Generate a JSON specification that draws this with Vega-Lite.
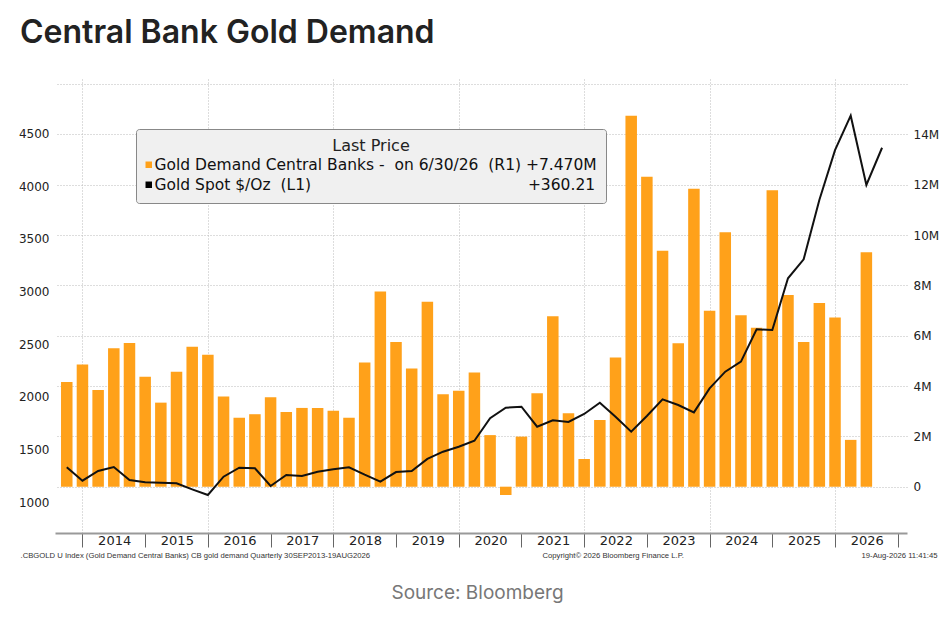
{
  "$schema": "https://vega.github.io/schema/vega-lite/v6.json",
  "width": 852,
  "height": 454,
  "autosize": {"type": "none"},
  "padding": {"left": 55, "top": 79, "right": 41, "bottom": 87},
  "background": "white",
  "title": {
    "text": "Central Bank Gold Demand",
    "anchor": "start",
    "frame": "group",
    "dx": -35,
    "offset": 4,
    "baseline": "alphabetic",
    "font": "Inter",
    "fontSize": 32,
    "fontWeight": 600,
    "color": "#222"
  },
  "data": {
    "values": [
      {"t": 2013.75, "demand": 4.16, "spot": 1332},
      {"t": 2014.0, "demand": 4.86, "spot": 1205},
      {"t": 2014.25, "demand": 3.84, "spot": 1297},
      {"t": 2014.5, "demand": 5.5, "spot": 1335},
      {"t": 2014.75, "demand": 5.71, "spot": 1212},
      {"t": 2015.0, "demand": 4.37, "spot": 1190},
      {"t": 2015.25, "demand": 3.34, "spot": 1186},
      {"t": 2015.5, "demand": 4.57, "spot": 1180},
      {"t": 2015.75, "demand": 5.56, "spot": 1123},
      {"t": 2016.0, "demand": 5.24, "spot": 1069},
      {"t": 2016.25, "demand": 3.58, "spot": 1243},
      {"t": 2016.5, "demand": 2.74, "spot": 1328},
      {"t": 2016.75, "demand": 2.88, "spot": 1322},
      {"t": 2017.0, "demand": 3.55, "spot": 1155},
      {"t": 2017.25, "demand": 2.97, "spot": 1259},
      {"t": 2017.5, "demand": 3.13, "spot": 1249},
      {"t": 2017.75, "demand": 3.13, "spot": 1290},
      {"t": 2018.0, "demand": 3.02, "spot": 1313},
      {"t": 2018.25, "demand": 2.74, "spot": 1332},
      {"t": 2018.5, "demand": 4.93, "spot": 1262},
      {"t": 2018.75, "demand": 7.76, "spot": 1196},
      {"t": 2019.0, "demand": 5.75, "spot": 1287},
      {"t": 2019.25, "demand": 4.7, "spot": 1297},
      {"t": 2019.5, "demand": 7.35, "spot": 1411},
      {"t": 2019.75, "demand": 3.67, "spot": 1480},
      {"t": 2020.0, "demand": 3.81, "spot": 1527},
      {"t": 2020.25, "demand": 4.54, "spot": 1584},
      {"t": 2020.5, "demand": 2.05, "spot": 1797},
      {"t": 2020.75, "demand": -0.33, "spot": 1897},
      {"t": 2021.0, "demand": 1.99, "spot": 1907},
      {"t": 2021.25, "demand": 3.71, "spot": 1717},
      {"t": 2021.5, "demand": 6.77, "spot": 1778},
      {"t": 2021.75, "demand": 2.92, "spot": 1762},
      {"t": 2022.0, "demand": 1.1, "spot": 1838},
      {"t": 2022.25, "demand": 2.65, "spot": 1945},
      {"t": 2022.5, "demand": 5.13, "spot": 1812},
      {"t": 2022.75, "demand": 14.74, "spot": 1670},
      {"t": 2023.0, "demand": 12.32, "spot": 1818},
      {"t": 2023.25, "demand": 9.38, "spot": 1977},
      {"t": 2023.5, "demand": 5.7, "spot": 1923},
      {"t": 2023.75, "demand": 11.84, "spot": 1853},
      {"t": 2024.0, "demand": 6.99, "spot": 2080},
      {"t": 2024.25, "demand": 10.11, "spot": 2239},
      {"t": 2024.5, "demand": 6.81, "spot": 2334},
      {"t": 2024.75, "demand": 6.32, "spot": 2641},
      {"t": 2025.0, "demand": 11.78, "spot": 2634},
      {"t": 2025.25, "demand": 7.62, "spot": 3125},
      {"t": 2025.5, "demand": 5.75, "spot": 3305},
      {"t": 2025.75, "demand": 7.3, "spot": 3867},
      {"t": 2026.0, "demand": 6.72, "spot": 4340},
      {"t": 2026.25, "demand": 1.86, "spot": 4667},
      {"t": 2026.5, "demand": 9.32, "spot": 4010},
      {"t": 2026.75, "demand": null, "spot": 4363}
    ]
  },
  "layer": [
    {
      "mark": {"type": "bar", "size": 11.5},
      "encoding": {
        "x": {
          "field": "t",
          "type": "quantitative",
          "scale": {"domain": [2013.642, 2027.068], "nice": false, "zero": false},
          "axis": {
            "orient": "bottom",
            "values": [2014, 2015, 2016, 2017, 2018, 2019, 2020, 2021, 2022, 2023, 2024, 2025, 2026, 2027],
            "format": "d",
            "labelExpr": "datum.value >= 2027 ? '' : datum.label",
            "labelOffset": 31.7,
            "labelFlush": false,
            "labelOverlap": false,
            "labelBound": false,
            "labelPadding": -7,
            "labelBaseline": "middle",
            "labelFont": "DejaVu Sans",
            "labelFontSize": 13,
            "labelColor": "#222",
            "tickSize": 14,
            "tickColor": "#666",
            "tickWidth": 1,
            "domainColor": "#999",
            "domainWidth": 2,
            "grid": true,
            "gridDash": [1, 2],
            "gridColor": "#bbb",
            "gridOpacity": {"condition": {"test": "datum.value % 2 === 0", "value": 1}, "value": 0},
            "title": ".CBGOLD U Index (Gold Demand Central Banks) CB gold demand Quarterly 30SEP2013-19AUG2026",
            "titleAlign": "left",
            "titleX": -35,
            "titleY": 22,
            "titleBaseline": "middle",
            "titleFont": "Liberation Sans",
            "titleFontSize": 7.7,
            "titleFontWeight": "normal",
            "titleColor": "#333"
          }
        },
        "y": {
          "field": "demand",
          "type": "quantitative",
          "scale": {"domain": [-1.84, 16.2], "nice": false},
          "axis": {
            "orient": "right",
            "values": [0, 2, 4, 6, 8, 10, 12, 14, 16],
            "labelExpr": "datum.value >= 16 ? '' : (datum.value == 0 ? '0' : datum.value + 'M')",
            "labelFont": "DejaVu Sans",
            "labelFontSize": 12,
            "labelColor": "#222",
            "labelPadding": 6,
            "ticks": false,
            "domain": false,
            "grid": true,
            "gridDash": [1, 2],
            "gridColor": "#bbb",
            "title": "19-Aug-2026 11:41:45",
            "titleAngle": 0,
            "titleX": 30,
            "titleY": 476,
            "titleAlign": "right",
            "titleBaseline": "middle",
            "titleFont": "Liberation Sans",
            "titleFontSize": 7.7,
            "titleFontWeight": "normal",
            "titleColor": "#333"
          }
        },
        "y2": {"datum": 0},
        "color": {
          "datum": "demand",
          "scale": {"domain": ["demand", "spot"], "range": ["#ffa11a", "#000000"]},
          "legend": {
            "orient": "none",
            "legendX": 81,
            "legendY": 50,
            "title": "Last Price",
            "titleAnchor": "middle",
            "titleFont": "DejaVu Sans",
            "titleFontSize": 16,
            "titleFontWeight": "normal",
            "titleColor": "#222",
            "titlePadding": 3,
            "labelFont": "DejaVu Sans",
            "labelFontSize": 15.5,
            "labelColor": "#111",
            "labelLimit": 1000,
            "labelOffset": -2,
            "labelExpr": "datum.value == 'demand' ? 'Gold Demand Central Banks -\u00a0\u00a0on 6/30/26\u00a0\u00a0(R1) +7.470M' : 'Gold Spot $/Oz\u00a0\u00a0(L1)\u00a0\u00a0\u00a0\u00a0\u00a0\u00a0\u00a0\u00a0\u00a0\u00a0\u00a0\u00a0\u00a0\u00a0\u00a0\u00a0\u00a0\u00a0\u00a0\u00a0\u00a0\u00a0\u00a0\u00a0\u00a0\u00a0\u00a0\u00a0\u00a0\u00a0\u00a0\u00a0\u00a0\u00a0\u00a0\u00a0\u00a0\u00a0\u00a0\u00a0\u00a0\u00a0\u00a0\u00a0+360.21'",
            "symbolType": "square",
            "symbolSize": 42,
            "symbolOffset": -4,
            "symbolStrokeWidth": 0,
            "rowPadding": 3,
            "padding": 9,
            "fillColor": "#f0f0f0",
            "strokeColor": "#888",
            "cornerRadius": 3
          }
        }
      }
    },
    {
      "mark": {"type": "line", "color": "#111", "strokeWidth": 2},
      "encoding": {
        "x": {
          "field": "t",
          "type": "quantitative",
          "axis": {
            "orient": "top",
            "labels": false,
            "ticks": false,
            "domain": false,
            "grid": false,
            "title": "Copyright\u00a9 2026 Bloomberg Finance L.P.",
            "titleX": 487,
            "titleY": 476,
            "titleAlign": "left",
            "titleBaseline": "middle",
            "titleFont": "Liberation Sans",
            "titleFontSize": 7.7,
            "titleFontWeight": "normal",
            "titleColor": "#333"
          }
        },
        "y": {
          "field": "spot",
          "type": "quantitative",
          "scale": {"domain": [708.8, 5015], "nice": false, "zero": false},
          "axis": {
            "orient": "left",
            "values": [1000, 1500, 2000, 2500, 3000, 3500, 4000, 4500],
            "format": "d",
            "labelFont": "DejaVu Sans",
            "labelFontSize": 12,
            "labelColor": "#222",
            "labelPadding": 6,
            "ticks": false,
            "domain": false,
            "grid": false,
            "title": "Source: Bloomberg",
            "titleAngle": 0,
            "titleX": 422,
            "titleY": 513,
            "titleAlign": "center",
            "titleBaseline": "middle",
            "titleFont": "Inter",
            "titleFontSize": 19,
            "titleFontWeight": "normal",
            "titleColor": "#777"
          }
        }
      }
    }
  ],
  "resolve": {
    "scale": {"y": "independent"},
    "axis": {"x": "independent", "y": "independent"}
  },
  "config": {"view": {"stroke": null}}
}
